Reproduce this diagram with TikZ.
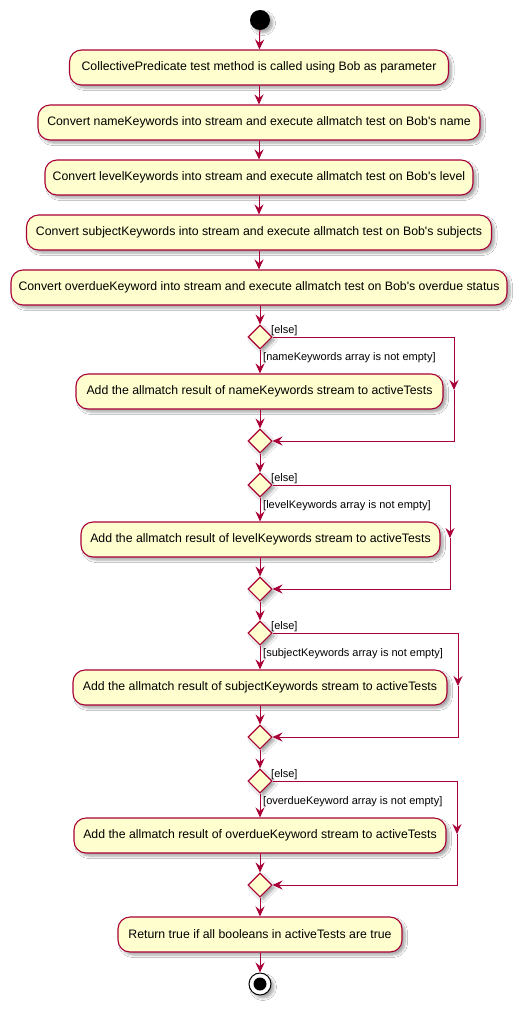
\documentclass[tikz,border=0pt]{standalone}
\usepackage{fontspec}
\setmainfont{Liberation Sans}
\usetikzlibrary{arrows.meta,shapes.geometric,shadows.blur}
\definecolor{umlred}{HTML}{A80036}
\definecolor{umlfill}{HTML}{FEFECE}
\newcommand{\ap}{\textquotesingle}
\tikzset{
  shd/.style={blur shadow={shadow xshift=3pt, shadow yshift=-3pt, shadow blur steps=6, shadow blur radius=2.5pt, shadow opacity=35}},
  act/.style={draw=umlred, fill=umlfill, line width=1.1pt, rounded corners=12pt, minimum height=35pt, inner sep=0pt, font=\fontsize{12.3}{14}\selectfont, shd},
  dec/.style={diamond, draw=umlred, fill=umlfill, line width=1.1pt, minimum width=24pt, minimum height=24pt, inner sep=0pt, shd},
  flow/.style={draw=umlred, line width=1pt, -{Stealth[length=10pt,width=9pt,inset=3.5pt]}},
  lbl/.style={font=\fontsize{11}{13}\selectfont, inner sep=0pt, anchor=west},
}
\begin{document}
\begin{tikzpicture}[x=1pt,y=-1pt]
\useasboundingbox[fill=white] (0,0) rectangle (525,1010);
% start
\node[circle, fill=black, minimum size=20pt, inner sep=0pt, shd] (start) at (260,20) {};
% top boxes
\node[act, minimum width=379pt] (b1) at (259,67.5) {CollectivePredicate test method is called using Bob as parameter};
\node[act, minimum width=442pt] (b2) at (259,122.5) {Convert nameKeywords into stream and execute allmatch test on Bob\ap s name};
\node[act, minimum width=428pt] (b3) at (259,177.5) {Convert levelKeywords into stream and execute allmatch test on Bob\ap s level};
\node[act, minimum width=465pt] (b4) at (259,232.5) {Convert subjectKeywords into stream and execute allmatch test on Bob\ap s subjects};
\node[act, minimum width=496pt] (b5) at (259,287.5) {Convert overdueKeyword into stream and execute allmatch test on Bob\ap s overdue status};
% decisions
\node[dec] (d1) at (260,337) {};
\node[act, minimum width=367pt] (b6) at (259.5,391.5) {Add the allmatch result of nameKeywords stream to activeTests};
\node[dec] (d2) at (260,441) {};
\node[dec] (d3) at (260,485) {};
\node[act, minimum width=359pt] (b7) at (260.5,539.5) {Add the allmatch result of levelKeywords stream to activeTests};
\node[dec] (d4) at (260,589) {};
\node[dec] (d5) at (260,633) {};
\node[act, minimum width=374pt] (b8) at (260,687.5) {Add the allmatch result of subjectKeywords stream to activeTests};
\node[dec] (d6) at (260,737) {};
\node[dec] (d7) at (260,781) {};
\node[act, minimum width=372pt] (b9) at (260,835.5) {Add the allmatch result of overdueKeyword stream to activeTests};
\node[dec] (d8) at (260,885) {};
\node[act, minimum width=284pt] (b10) at (260,934.5) {Return true if all booleans in activeTests are true};
% end
\node[circle, draw=black, fill=white, line width=1pt, minimum size=22pt, inner sep=0pt, shd] (stop) at (260,984) {};
\fill[black] (stop.center) circle (6.5pt);
% labels
\node[lbl] (e1) at (271,331) {[else]};
\node[lbl] (c1) at (263,358) {[nameKeywords array is not empty]};
\node[lbl] (e2) at (271,479) {[else]};
\node[lbl] (c2) at (263,506) {[levelKeywords array is not empty]};
\node[lbl] (e3) at (271,627) {[else]};
\node[lbl] (c3) at (263,654) {[subjectKeywords array is not empty]};
\node[lbl] (e4) at (271,775) {[else]};
\node[lbl] (c4) at (263,802) {[overdueKeyword array is not empty]};
% main flow
\draw[flow] (start) -- (b1);
\draw[flow] (b1) -- (b2);
\draw[flow] (b2) -- (b3);
\draw[flow] (b3) -- (b4);
\draw[flow] (b4) -- (b5);
\draw[flow] (b5.south -| d1) -- (d1);
\draw[flow] (d1) -- (b6.north -| d1);
\draw[flow] (b6.south -| d2) -- (d2);
\draw[flow] (d2) -- (d3);
\draw[flow] (d3) -- (b7.north -| d3);
\draw[flow] (b7.south -| d4) -- (d4);
\draw[flow] (d4) -- (d5);
\draw[flow] (d5) -- (b8.north -| d5);
\draw[flow] (b8.south -| d6) -- (d6);
\draw[flow] (d6) -- (d7);
\draw[flow] (d7) -- (b9.north -| d7);
\draw[flow] (b9.south -| d8) -- (d8);
\draw[flow] (d8) -- (b10.north -| d8);
\draw[flow] (b10.south -| stop) -- (stop);
% else branches
\coordinate (r1a) at (454,337); \coordinate (r1m) at (454,390); \coordinate (r1b) at (454,441);
\draw[flow] (d1.east) -- (r1a) -- (r1m);
\draw[flow] (r1m) -- (r1b) -- (d2.east);
\coordinate (r2a) at (450,485); \coordinate (r2m) at (450,538); \coordinate (r2b) at (450,589);
\draw[flow] (d3.east) -- (r2a) -- (r2m);
\draw[flow] (r2m) -- (r2b) -- (d4.east);
\coordinate (r3a) at (458,633); \coordinate (r3m) at (458,686); \coordinate (r3b) at (458,737);
\draw[flow] (d5.east) -- (r3a) -- (r3m);
\draw[flow] (r3m) -- (r3b) -- (d6.east);
\coordinate (r4a) at (457,781); \coordinate (r4m) at (457,834); \coordinate (r4b) at (457,885);
\draw[flow] (d7.east) -- (r4a) -- (r4m);
\draw[flow] (r4m) -- (r4b) -- (d8.east);
\end{tikzpicture}
\end{document}
